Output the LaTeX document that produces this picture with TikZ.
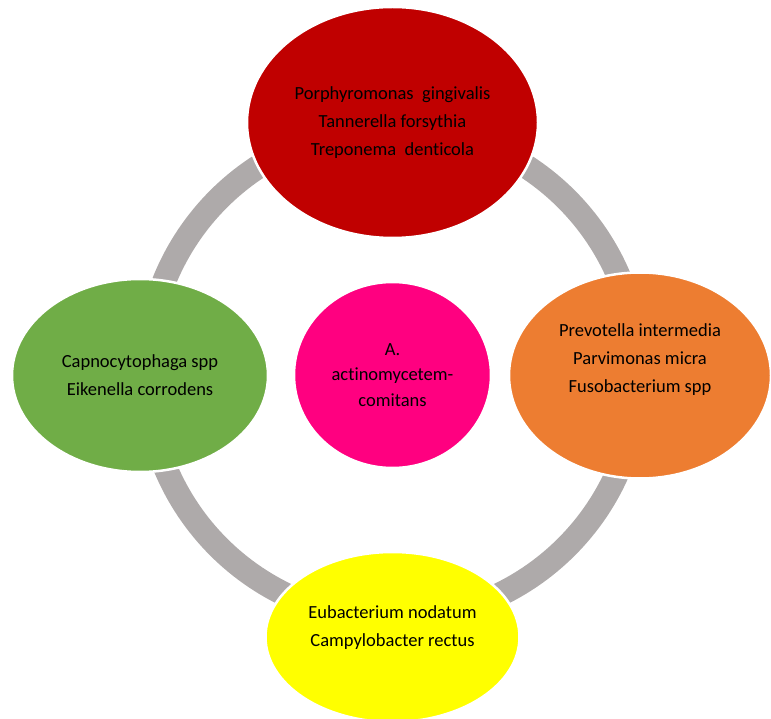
\documentclass[tikz,border=0pt]{standalone}
\usepackage{fontspec}
\setmainfont[Ligatures={NoCommon}]{Carlito}
\usetikzlibrary{shapes.geometric}
\definecolor{cred}{HTML}{C00000}
\definecolor{corange}{HTML}{ED7D31}
\definecolor{cgreen}{HTML}{70AD47}
\definecolor{cyellow}{HTML}{FFFF00}
\definecolor{cpink}{HTML}{FF0080}
\definecolor{cgray}{HTML}{AEAAAA}
\tikzset{
  blob/.style={ellipse, draw=white, line width=2.5pt, inner sep=0pt},
  txt/.style={align=center, font=\fontsize{18.5}{28}\selectfont, text=black, inner sep=0pt},
  ring/.style={draw=cgray, line width=24pt}
}
\begin{document}
\begin{tikzpicture}[x=1pt,y=-1pt]
\useasboundingbox (0,0) rectangle (771,719);
\coordinate (ringc) at (392.5,373);
\draw[ring] (ringc) circle[radius=246];
\node[blob, fill=cred, minimum width=291, minimum height=231] (red) at (392.5,122.5) {};
\node[txt] (redtxt) at (392.5,122.5) {Porphyromonas\ \ gingivalis\\Tannerella forsythia\\Treponema\ \ denticola};
\node[blob, fill=corange, minimum width=262, minimum height=206] (orange) at (640,375.5) {};
\node[txt] (orangetxt) at (640,360) {Prevotella intermedia\\Parvimonas micra\\Fusobacterium spp};
\node[blob, fill=cgreen, minimum width=256, minimum height=193] (green) at (140,375.5) {};
\node[txt] (greentxt) at (140,375.5) {Capnocytophaga spp\\Eikenella corrodens};
\node[blob, fill=cyellow, minimum width=254, minimum height=170] (yellow) at (392.5,637) {};
\node[txt] (yellowtxt) at (392.5,628) {Eubacterium nodatum\\Campylobacter rectus};
\node[blob, fill=cpink, minimum width=197, minimum height=186] (pink) at (392.5,375) {};
\node[txt, font=\fontsize{18.5}{25.5}\selectfont] (pinktxt) at (392.5,375) {A.\\actinomycetem-\\comitans};
\end{tikzpicture}
\end{document}
